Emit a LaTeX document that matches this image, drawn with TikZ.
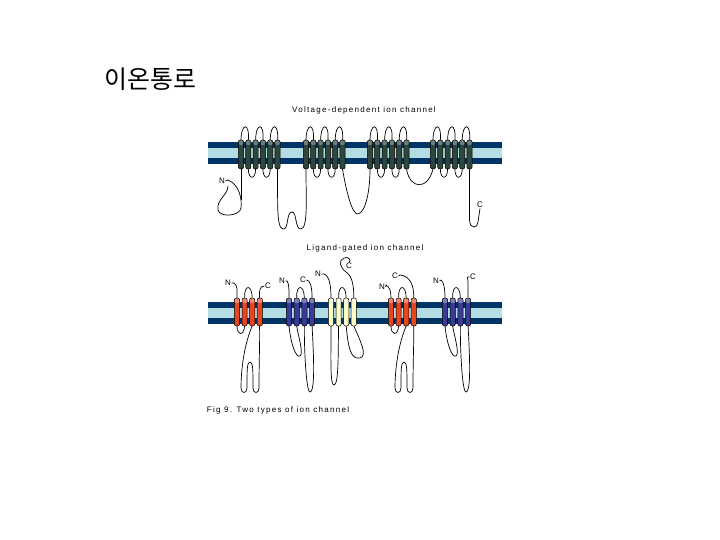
\documentclass[tikz,border=0pt]{standalone}
\usepackage{fontspec}
\setmainfont{Liberation Sans}
\newfontfamily\kr{Noto Sans CJK KR}
\newfontfamily\spacedfont[LetterSpace=16]{Liberation Sans}
\definecolor{mdark}{HTML}{003366}
\definecolor{mlight}{HTML}{B3DDE3}
\definecolor{hgreen}{HTML}{2E473A}
\definecolor{cgreen}{HTML}{6F7F77}
\definecolor{hred}{HTML}{E8461E}
\definecolor{cred}{HTML}{EE8A78}
\definecolor{hblue}{HTML}{3B3B96}
\definecolor{cblue}{HTML}{8080B8}
\definecolor{hyel}{HTML}{FFFFC8}
\definecolor{cyel}{HTML}{FFFFE6}
\newcommand{\hx}[5]{%
  \fill[#4,rounded corners=2pt] (#1-2.6,#2) rectangle (#1+2.6,#3);
  \fill[#5,rounded corners=2pt] (#1-2.6,#2) rectangle (#1+2.6,#2+5);
  \draw[line width=0.5pt,rounded corners=2pt] (#1-2.6,#2) rectangle (#1+2.6,#3);}
\tikzset{lp/.style={line width=0.7pt},lab/.style={font=\fontsize{8}{9}\selectfont,inner sep=0.5pt},
  captext/.style={font=\spacedfont\fontsize{8}{9}\selectfont}}
\begin{document}
\begin{tikzpicture}[x=1pt,y=-1pt]
\useasboundingbox (0,0) rectangle (720,540);
\fill[white] (0,0) rectangle (720,540);
\node[font=\kr\fontsize{25}{26}\selectfont] (title) at (150,79) {이온통로};
\node[captext] (t1) at (364,110) {Voltage{-}dependent ion channel};
\node[captext] (t2) at (365,248) {Ligand{-}gated ion channel};
\node[captext] (t3) at (278,410) {Fig 9. Two types of ion channel};
% membranes
\foreach \y in {142,302}{
  \fill[mdark] (208,\y) rectangle (502,\y+22);
  \fill[mlight] (208,\y+6) rectangle (502,\y+16);}
% ===== voltage dependent =====
\foreach \s in {241,306,370,433}{
  \foreach \i in {0,2,4}{
    \draw[lp] (\s+\i*7.3,141) .. controls (\s+\i*7.3,122) and (\s+\i*7.3+9,122) .. (\s+\i*7.3+7.3,141);}
  \foreach \i in {1,3}{
    \draw[lp] (\s+\i*7.3,169) .. controls (\s+\i*7.3,180) and (\s+\i*7.3+7.3,180) .. (\s+\i*7.3+7.3,169);}
}
\node[lab] (N1) at (222,181) {N};
\node[lab] (C1) at (480,205) {C};
\draw[lp] (N1.east) -- (228,180) .. controls (240,185) and (242,200) .. (241,208) .. controls (240,216) and (220,218) .. (218,210) .. controls (216,200) and (228,195) .. (228,186);
\draw[lp] (241,169) -- (241,200);
\draw[lp] (277.5,169) .. controls (278,200) and (276,228) .. (283,229) .. controls (289,230) and (286,212) .. (292,212) .. controls (297,212) and (295,230) .. (301,229) .. controls (308,228) and (306,200) .. (306,169);
\draw[lp] (342.5,169) .. controls (346,190) and (352,215) .. (358,214) .. controls (366,212) and (370,190) .. (370,169);
\draw[lp] (406.5,169) .. controls (410,190) and (428,190) .. (433,169);
\draw[lp] (469.5,169) -- (469.5,220) .. controls (470,230) and (478,228) .. (478,222) -- (C1.south);
\foreach \s in {241,306,370,433}{
  \foreach \i in {0,...,5}{\hx{\s+\i*7.3}{140}{169}{hgreen}{cgreen}}}
% ===== ligand gated =====
% group 1 red
\node[lab] (Na) at (228,283) {N};
\node[lab] (Ca) at (268,286) {C};
\draw[lp] (Na.east) -- (234,283) .. controls (238,285) and (237,292) .. (237,298);
\draw[lp] (259.5,298) .. controls (259,290) and (260,286) .. (Ca.west);
\draw[lp] (244.6,298) .. controls (244,284) and (252,284) .. (252.2,298);
\draw[lp] (237,326) .. controls (237,336) and (244,336) .. (244.6,326);
\draw[lp] (252.2,326) .. controls (244,345) and (241,370) .. (241,388) .. controls (241,394) and (247,394) .. (247,388) .. controls (247,370) and (247,362) .. (250,362) .. controls (253,362) and (253,370) .. (253,388) .. controls (253,394) and (259,394) .. (259,388) .. controls (259,360) and (260,340) .. (259.5,326);
% group 2 blue
\node[lab] (Nb) at (282,281) {N};
\node[lab] (Cb) at (303,280) {C};
\draw[lp] (Nb.east) -- (287,281) .. controls (289,283) and (289,290) .. (289,298);
\draw[lp] (296.7,298) .. controls (296,284) and (304,284) .. (304.4,298);
\draw[lp] (312.1,298) .. controls (312,286) and (310,280) .. (Cb.east);
\draw[lp] (289,326) .. controls (291,345) and (296,358) .. (300,356) .. controls (304,354) and (298,335) .. (296.7,326);
\draw[lp] (304.4,326) .. controls (304,345) and (306,392) .. (310,392) .. controls (316,392) and (313,345) .. (312.1,326);
% group 3 yellow
\node[lab] (Nc) at (318,274) {N};
\node[lab] (Cc) at (349,266) {C};
\draw[lp] (Nc.east) -- (324,274) .. controls (330,276) and (331,288) .. (331,298);
\draw[lp] (338.6,298) .. controls (338,284) and (346,284) .. (346.2,298);
\draw[lp] (353.8,298) .. controls (354,280) and (350,275) .. (346,272) .. controls (340,268) and (338,260) .. (344,258) .. controls (348,256) and (352,260) .. (Cc.north);
\draw[lp] (331,326) .. controls (331,360) and (330,385) .. (334,385) .. controls (339,385) and (338,350) .. (338.6,326);
\draw[lp] (346.2,326) .. controls (348,345) and (350,360) .. (360,358) .. controls (368,356) and (360,340) .. (353.8,326);
% group 4 red
\node[lab] (Nd) at (382,287) {N};
\node[lab] (Cd) at (395,276) {C};
\draw[lp] (Nd.east) -- (386,285) .. controls (390,287) and (391,292) .. (391,298);
\draw[lp] (398.6,298) .. controls (398,284) and (406,284) .. (406.2,298);
\draw[lp] (Cd.east) -- (400,275) .. controls (410,276) and (414,285) .. (413.8,298);
\draw[lp] (391,326) .. controls (391,336) and (398,336) .. (398.6,326);
\draw[lp] (406.2,326) .. controls (398,345) and (395,370) .. (395,388) .. controls (395,394) and (401,394) .. (401,388) .. controls (401,370) and (401,362) .. (404,362) .. controls (407,362) and (407,370) .. (407,388) .. controls (407,394) and (413,394) .. (413,388) .. controls (413,360) and (414,340) .. (413.8,326);
% group 5 blue
\node[lab] (Ne) at (436,281) {N};
\node[lab] (Ce) at (473,277) {C};
\draw[lp] (Ne.east) -- (441,280) .. controls (444,282) and (445,290) .. (445,298);
\draw[lp] (452.7,298) .. controls (452,284) and (460,284) .. (460.4,298);
\draw[lp] (468.1,298) -- (468,282) .. controls (468,277) and (466,277) .. (Ce.west);
\draw[lp] (445,326) .. controls (447,345) and (452,358) .. (456,356) .. controls (460,354) and (454,335) .. (452.7,326);
\draw[lp] (460.4,326) .. controls (460,345) and (462,392) .. (466,392) .. controls (472,392) and (469,345) .. (468.1,326);
% helices
\foreach \x in {237,244.6,252.2,259.8,391,398.6,406.2,413.8}{\hx{\x}{298}{326}{hred}{cred}}
\foreach \x in {289,296.7,304.4,312.1,445,452.7,460.4,468.1}{\hx{\x}{298}{326}{hblue}{cblue}}
\foreach \x in {331,338.6,346.2,353.8}{\hx{\x}{298}{326}{hyel}{cyel}}
\end{tikzpicture}
\end{document}
